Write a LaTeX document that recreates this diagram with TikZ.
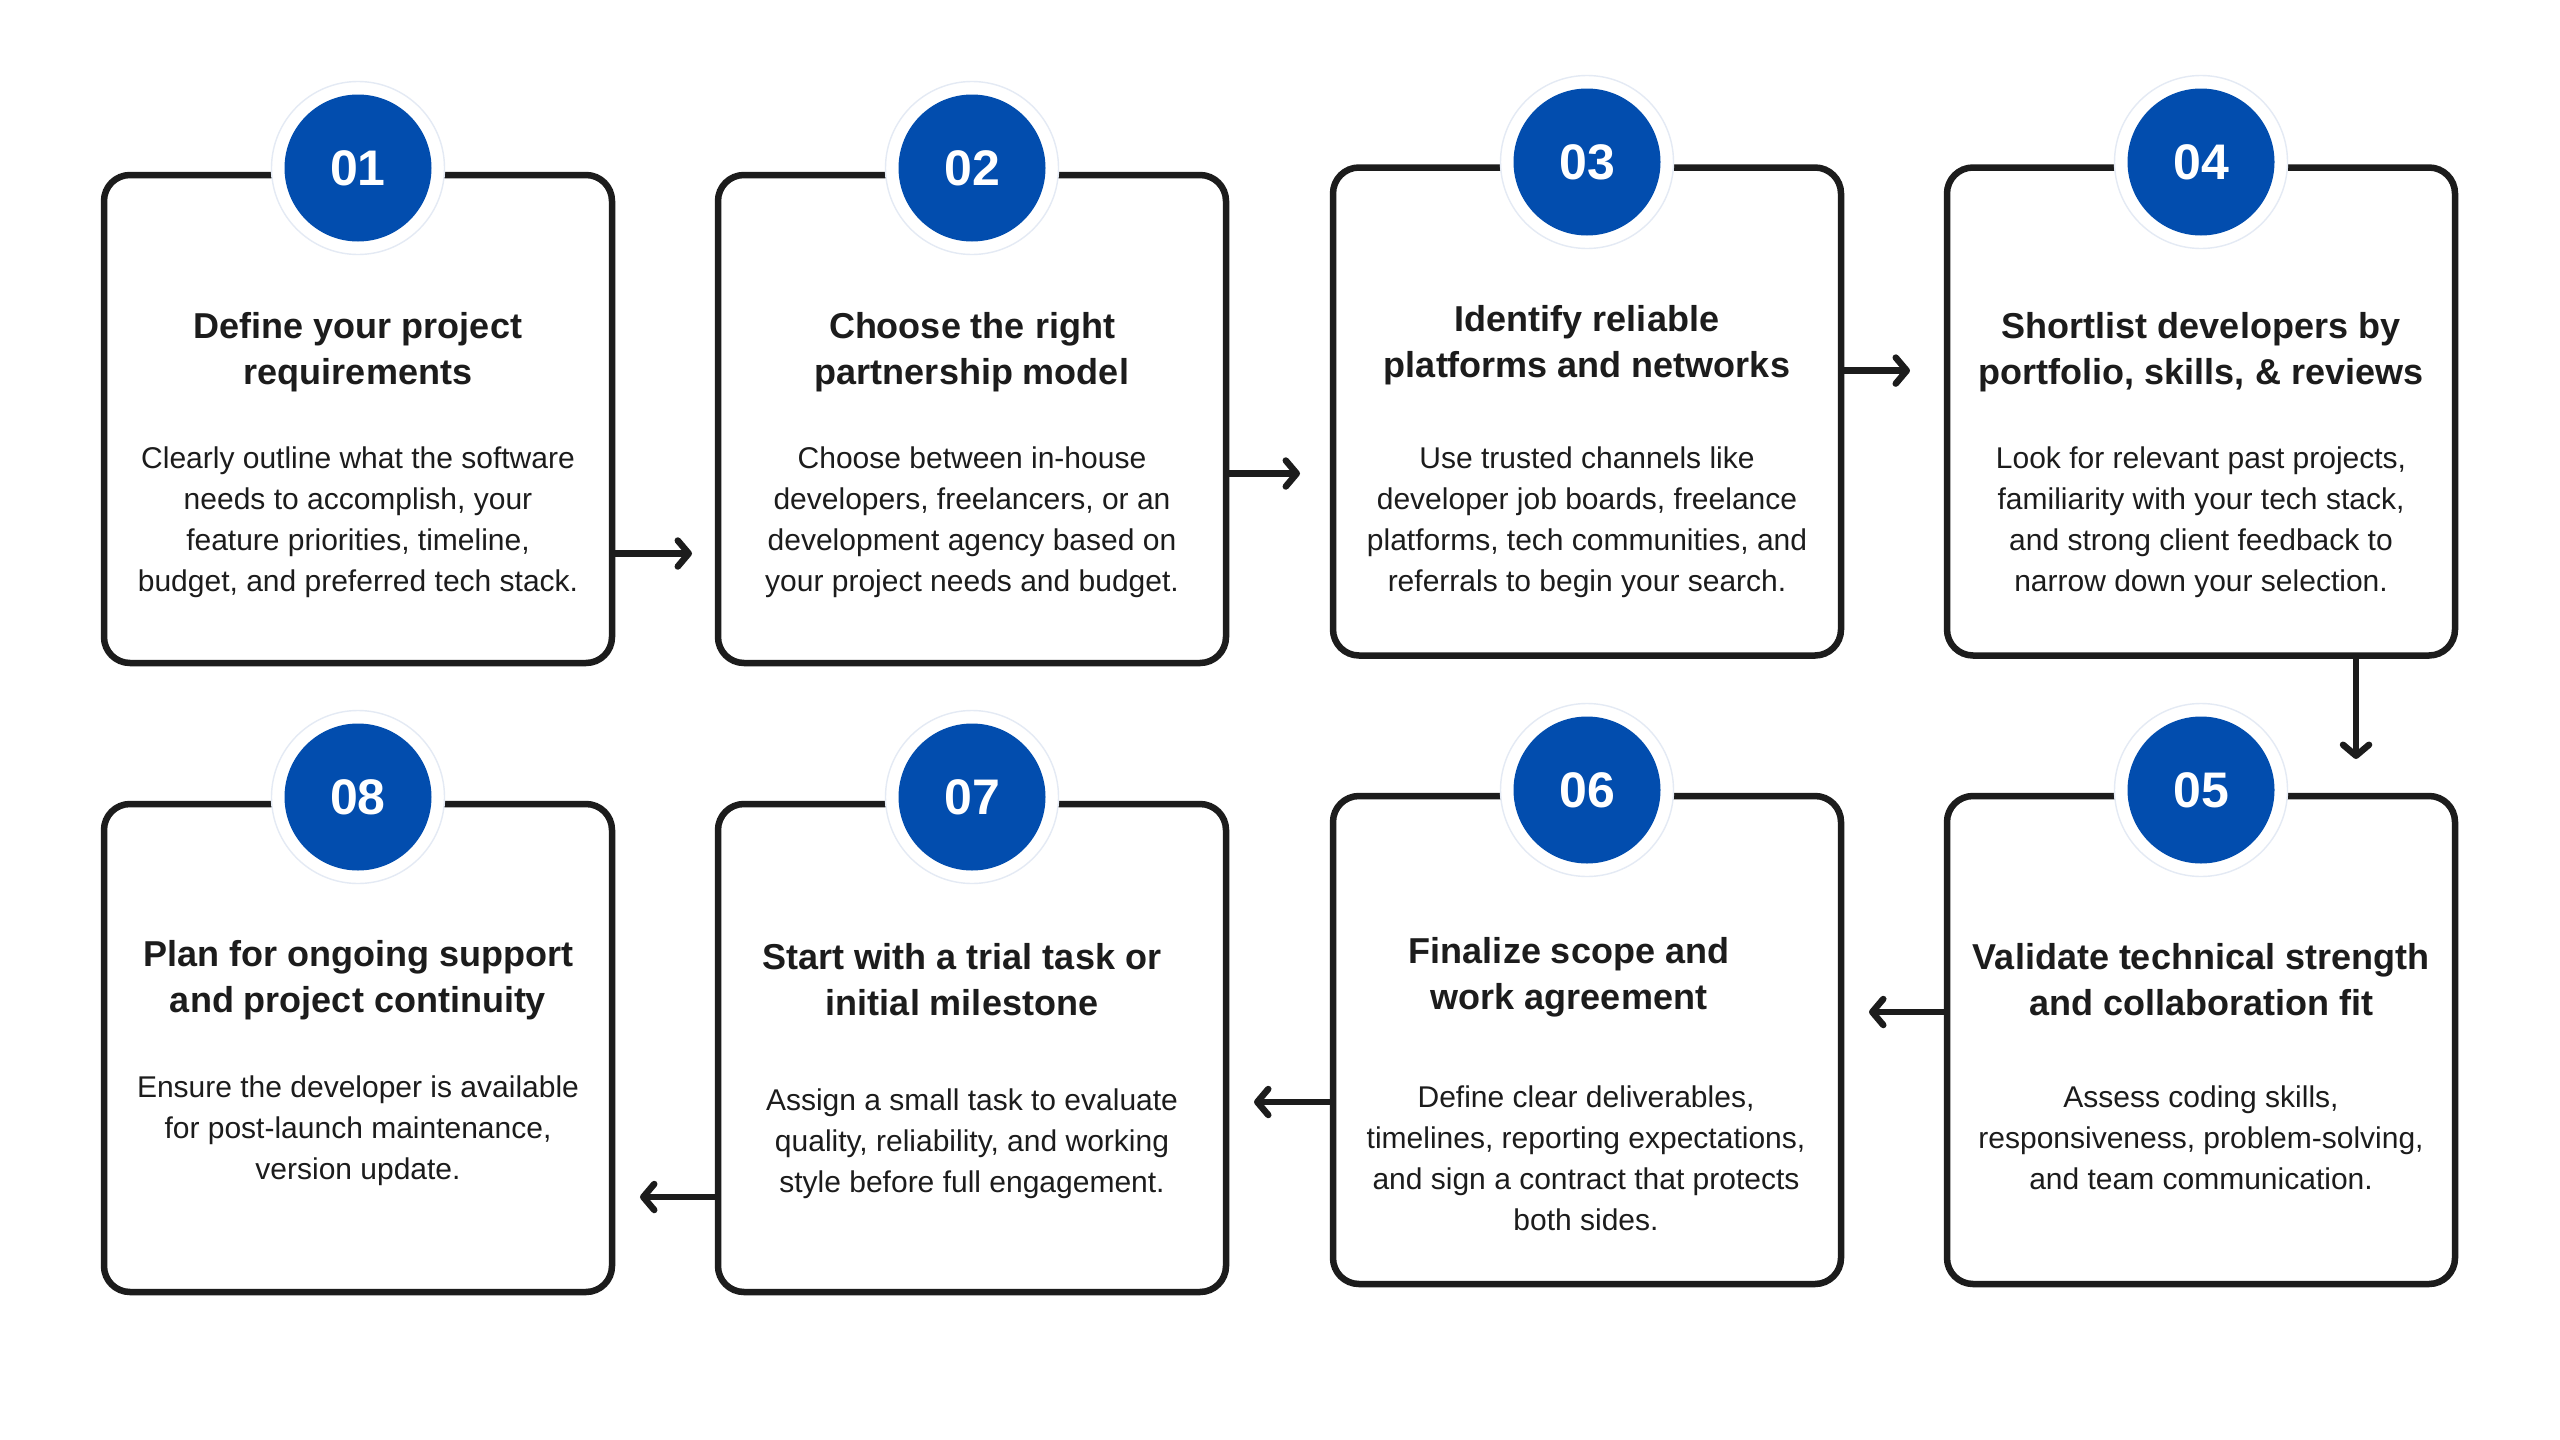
\documentclass[tikz,border=0pt]{standalone}
\usepackage{fontspec}
\setmainfont{Liberation Sans}
\usetikzlibrary{arrows.meta}
\definecolor{stepblue}{HTML}{024DAE}
\definecolor{inkc}{HTML}{1C1C1C}
\definecolor{halo}{HTML}{E4EAF4}
\tikzset{
  stepbox/.style={draw=inkc, line width=3.25pt, rounded corners=13pt, minimum width=254pt, minimum height=244pt, fill=white, inner sep=0pt},
  ring/.style={circle, fill=white, draw=halo, line width=0.7pt, minimum size=86.5pt, inner sep=0pt},
  num/.style={circle, fill=stepblue, minimum size=73.5pt, inner sep=0pt, text=white, font=\fontsize{25}{25}\selectfont\bfseries},
  ttl/.style={align=center, font=\fontsize{18}{23}\selectfont\bfseries, text=inkc, inner sep=0pt},
  bdy/.style={align=center, font=\fontsize{15}{20.5}\selectfont, text=inkc, inner sep=0pt},
  arr/.style={draw=inkc, line width=3.25pt, -{Straight Barb[length=5.5pt,width=13pt,line cap=round,line join=round]}}
}
\begin{document}
\begin{tikzpicture}[x=0.5pt,y=-0.5pt]
\useasboundingbox[fill=white] (0,0) rectangle (2560,1440);
% boxes
\node[stepbox] (b1) at (358,419) {};
\node[stepbox] (b2) at (972,419) {};
\node[stepbox] (b3) at (1587,411.5) {};
\node[stepbox] (b4) at (2201,411.5) {};
\node[stepbox] (b5) at (2201,1040) {};
\node[stepbox] (b6) at (1587,1040) {};
\node[stepbox] (b7) at (972,1048) {};
\node[stepbox] (b8) at (358,1048) {};
% number badges
\node[ring] (h1) at (358,168) {};   \node[num] (n1) at (h1) {01};
\node[ring] (h2) at (972,168) {};   \node[num] (n2) at (h2) {02};
\node[ring] (h3) at (1587,162) {};  \node[num] (n3) at (h3) {03};
\node[ring] (h4) at (2201,162) {};  \node[num] (n4) at (h4) {04};
\node[ring] (h5) at (2201,790) {};  \node[num] (n5) at (h5) {05};
\node[ring] (h6) at (1587,790) {};  \node[num] (n6) at (h6) {06};
\node[ring] (h7) at (972,797) {};   \node[num] (n7) at (h7) {07};
\node[ring] (h8) at (358,797) {};   \node[num] (n8) at (h8) {08};
% titles
\node[ttl] (t1) at (358,352) {Define your project\\requirements};
\node[ttl] (t2) at (972,352) {Choose the right\\partnership model};
\node[ttl] (t3) at (1587,345) {Identify reliable\\platforms and networks};
\node[ttl] (t4) at (2201,352) {Shortlist developers by\\portfolio, skills, \& reviews};
\node[ttl] (t5) at (2201,980) {Validate technical strength\\and collaboration fit};
\node[ttl] (t6) at (1569,977) {Finalize scope and\\work agreement};
\node[ttl] (t7) at (962,980) {Start with a trial task or\\initial milestone};
\node[ttl] (t8) at (358,980.5) {Plan for ongoing support\\and project continuity};
% bodies
\node[bdy] (d1) at (358,522.5) {Clearly outline what the software\\needs to accomplish, your\\feature priorities, timeline,\\budget, and preferred tech stack.};
\node[bdy] (d2) at (972,522.5) {Choose between in-house\\developers, freelancers, or an\\development agency based on\\your project needs and budget.};
\node[bdy] (d3) at (1587,522.5) {Use trusted channels like\\developer job boards, freelance\\platforms, tech communities, and\\referrals to begin your search.};
\node[bdy] (d4) at (2201,522.5) {Look for relevant past projects,\\familiarity with your tech stack,\\and strong client feedback to\\narrow down your selection.};
\node[bdy] (d5) at (2201,1138) {Assess coding skills,\\responsiveness, problem-solving,\\and team communication.};
\node[bdy] (d6) at (1586,1158.5) {Define clear deliverables,\\timelines, reporting expectations,\\and sign a contract that protects\\both sides.};
\node[bdy] (d7) at (972,1143.5) {Assign a small task to evaluate\\quality, reliability, and working\\style before full engagement.};
\node[bdy] (d8) at (358,1131) {Ensure the developer is available\\for post-launch maintenance,\\version update.};
% arrow end points
\coordinate (e12) at (692,553.5);
\coordinate (e23) at (1300,473.5);
\coordinate (e34) at (1910,370.6);
\coordinate (e45) at (2356,759);
\coordinate (e56) at (1869,1012);
\coordinate (e67) at (1254,1102);
\coordinate (e78) at (640,1197);
% connectors
\draw[arr] (b1.east |- e12) -- (e12);
\draw[arr] (b2.east |- e23) -- (e23);
\draw[arr] (b3.east |- e34) -- (e34);
\draw[arr] (b4.south -| e45) -- (e45);
\draw[arr] (b5.west |- e56) -- (e56);
\draw[arr] (b6.west |- e67) -- (e67);
\draw[arr] (b7.west |- e78) -- (e78);
\end{tikzpicture}
\end{document}
